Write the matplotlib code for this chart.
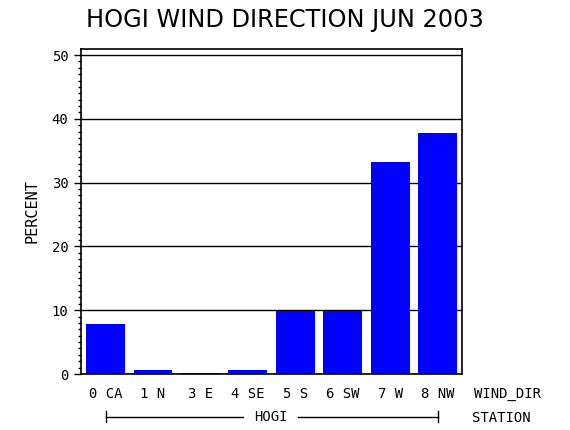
import matplotlib
matplotlib.use('Agg')
import matplotlib.pyplot as plt
from matplotlib.ticker import MultipleLocator
import numpy as np

# wind direction categories and percent of hours
directions = ['0 CA', '1 N', '3 E', '4 SE', '5 S', '6 SW', '7 W', '8 NW']
percent = [7.9, 0.6, 0.2, 0.6, 9.9, 9.9, 33.2, 37.8]
station = 'HOGI'
title = 'HOGI WIND DIRECTION JUN 2003'

fig = plt.figure(figsize=(5.7, 4.3), dpi=100)
ax = fig.add_axes([0.1421, 0.1302, 0.668, 0.7558])

x = np.arange(len(directions))
ax.bar(x, percent, width=0.82, color='#0000ff', zorder=2)

ax.set_xlim(-0.517, len(directions) - 1 + 0.51)
ax.set_ylim(0, 50.95)
ax.yaxis.set_major_locator(MultipleLocator(10))
ax.yaxis.set_minor_locator(MultipleLocator(1))
ax.grid(axis='y', which='major', color='black', linewidth=1.0, zorder=1)

mono = 'DejaVu Sans Mono'
ax.set_xticks(x)
ax.set_xticklabels(directions, family=mono, fontsize=10)
ax.tick_params(axis='x', length=0, pad=9)
ax.tick_params(axis='y', which='major', length=5, width=1, direction='out', pad=4)
ax.tick_params(axis='y', which='minor', length=2.5, width=1, direction='out')
for lab in ax.get_yticklabels():
    lab.set_family(mono)
    lab.set_fontsize(10)

for s in ax.spines.values():
    s.set_linewidth(1.2)
    s.set_color('black')

ax.set_ylabel('PERCENT', family=mono, fontsize=11)
ax.yaxis.set_label_coords(-0.108, 0.5)

fig.text(0.5, 0.953, title, ha='center', va='center', fontsize=17.3,
         family='DejaVu Sans')

# x group label row
ax.text(1.032, -0.061, 'WIND_DIR', transform=ax.transAxes, ha='left',
        va='center', family=mono, fontsize=10)
ax.text(1.027, -0.135, 'STATION', transform=ax.transAxes, ha='left',
        va='center', family=mono, fontsize=10)

# station bracket under the bars
yb = -0.132
x0, x1 = 0, len(directions) - 1
trans = ax.get_xaxis_transform()
ax.plot([x0, 2.9], [yb, yb], color='black', lw=1, transform=trans, clip_on=False)
ax.plot([4.06, x1], [yb, yb], color='black', lw=1, transform=trans, clip_on=False)
ax.plot([x0, x0], [yb - 0.017, yb + 0.017], color='black', lw=1, transform=trans, clip_on=False)
ax.plot([x1, x1], [yb - 0.017, yb + 0.017], color='black', lw=1, transform=trans, clip_on=False)
ax.text(3.48, yb, station, transform=trans, ha='center', va='center',
        family=mono, fontsize=10)

fig.savefig('out.png', dpi=100)
